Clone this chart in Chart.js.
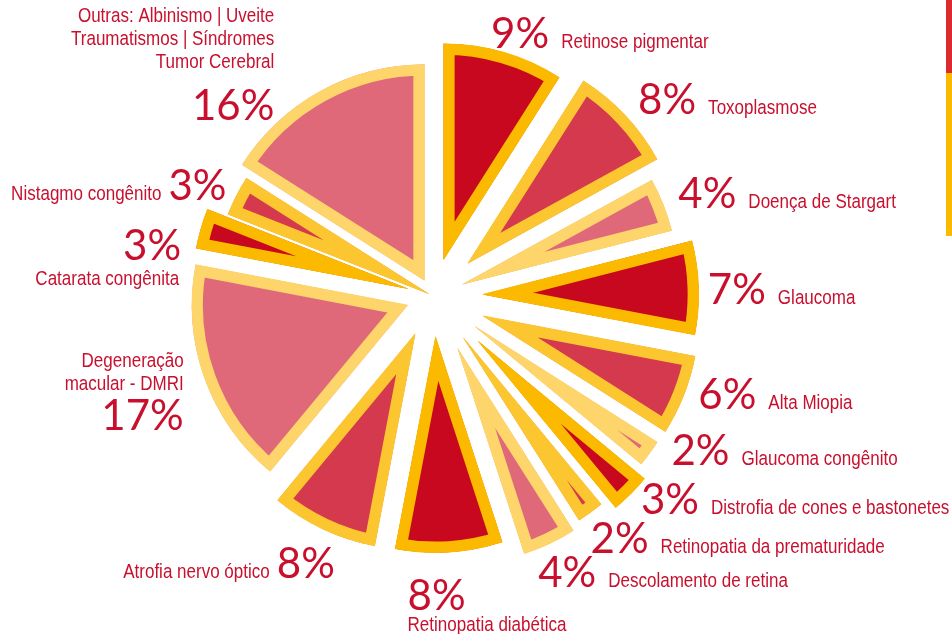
<!DOCTYPE html>
<html>
<head>
<meta charset="utf-8">
<script src="https://cdn.jsdelivr.net/npm/chart.js@4.4.1/dist/chart.umd.min.js"></script>
<style>
  html, body { margin: 0; padding: 0; background: #fff; }
  .container { position: relative; width: 952px; height: 634px; }
</style>
</head>
<body>
<div class="container"><canvas id="myChart" width="952" height="634"></canvas></div>
<script>
const causes = [
  'Retinose pigmentar', 'Toxoplasmose', 'Doença de Stargart', 'Glaucoma', 'Alta Miopia',
  'Glaucoma congênito', 'Distrofia de cones e bastonetes', 'Retinopatia da prematuridade',
  'Descolamento de retina', 'Retinopatia diabética', 'Atrofia nervo óptico',
  'Degeneração\nmacular - DMRI', 'Catarata congênita', 'Nistagmo congênito',
  'Outras: Albinismo | Uveite\nTraumatismos | Síndromes\nTumor Cerebral'
];
const shares = [9, 8, 4, 7, 6, 2, 3, 2, 4, 8, 8, 17, 3, 3, 16];
const pctLabels = shares.map(v => v + '%');

// look
const TEXT_RED = '#C8102E';
const fillShades = ['#C8081F', '#D5394D', '#E06979'];
const edgeShades = ['#FBBA00', '#FCC631', '#FDD56B'];
// how far each wedge is pulled out from the middle (px)
const explode = [38, 48, 32, 50, 54, 52, 64, 52, 58, 41, 42, 27, 26, 5, 18];
// caption placement: side, nudge x, nudge y, gap above (for stacked captions)
const captionLayout = [
  ['right', 9, 21], ['right', 30, 10], ['right', 14, 15], ['right', 24, 17],
  ['right', 34, 10], ['right', 41, 4], ['right', 39, 20], ['right', 22, 30],
  ['right', 15, 38], ['below', -14, 35], ['left', -8, 29], ['above', -27, 39, 40],
  ['belowRight', -12, 42], ['left', 14, 31], ['above', -65, 69, 52]
];
const PCT_FONT = '42px Lato, "Open Sans", sans-serif';
const LABEL_FONT = '20.5px "Liberation Sans", Arial, sans-serif';
const SQUEEZE = 0.83; // the captions are set in a narrow face

// fillText, squeezed horizontally
function narrowText(c, text, x, y, align) {
  const w = c.measureText(text).width * SQUEEZE;
  const left = align === 'left' ? x : x - w;
  c.save();
  c.translate(left, y);
  c.scale(SQUEEZE, 1);
  c.textAlign = 'left';
  c.fillText(text, 0, 0);
  c.restore();
}

const explodePlugin = {
  id: 'explode',
  afterDatasetsUpdate(chart) {
    chart.getDatasetMeta(0).data.forEach((arc, i) => {
      const mid = (arc.startAngle + arc.endAngle) / 2;
      arc.x += Math.cos(mid) * explode[i];
      arc.y += Math.sin(mid) * explode[i];
    });
  }
};

const stripePlugin = {
  id: 'stripe',
  afterDraw(chart) {
    const c = chart.ctx;
    c.save();
    c.fillStyle = '#DB2A30';
    c.fillRect(946, 0, 6, 73);
    c.fillStyle = '#FBBA00';
    c.fillRect(946, 73, 6, 163);
    c.restore();
  }
};

const captionPlugin = {
  id: 'captions',
  afterDatasetsDraw(chart) {
    const c = chart.ctx;
    const area = chart.chartArea;
    const cx = (area.left + area.right) / 2;
    const cy = (area.top + area.bottom) / 2;
    c.save();
    c.fillStyle = TEXT_RED;
    c.textBaseline = 'alphabetic';
    chart.getDatasetMeta(0).data.forEach((arc, i) => {
      const mid = (arc.startAngle + arc.endAngle) / 2;
      const [side, dx, dy, gap] = captionLayout[i];
      const x = cx + Math.cos(mid) * 280 + dx;
      const y = cy + Math.sin(mid) * 280 + dy;
      c.font = PCT_FONT;
      c.textAlign = 'center';
      const w = c.measureText(pctLabels[i]).width;
      c.fillText(pctLabels[i], x, y);

      c.font = LABEL_FONT;
      const lines = causes[i].split('\n');
      if (side === 'right') {
        narrowText(c, lines[0], x + w / 2 + 12, y, 'left');
      } else if (side === 'left') {
        narrowText(c, lines[0], x - w / 2 - 7, y, 'right');
      } else if (side === 'below') {
        narrowText(c, lines[0], x - w / 2, y + 21, 'left');
      } else if (side === 'belowRight') {
        narrowText(c, lines[0], x + w / 2 - 2, y + 25, 'right');
      } else {
        lines.forEach((ln, k) => {
          narrowText(c, ln, x + w / 2, y - gap - (lines.length - 1 - k) * 23, 'right');
        });
      }
    });
    c.restore();
  }
};

const ctx = document.getElementById('myChart');
new Chart(ctx, {
  type: 'pie',
  data: {
    labels: causes,
    datasets: [{
      data: shares,
      radius: 216,
      backgroundColor: shares.map((v, i) => fillShades[i % 3]),
      borderColor: shares.map((v, i) => edgeShades[i % 3]),
      borderWidth: 11,
      borderAlign: 'inner',
      borderJoinStyle: 'miter'
    }]
  },
  options: {
    responsive: false,
    animation: false,
    layout: { padding: { right: 86, bottom: 42 } },
    plugins: {
      legend: { display: false },
      tooltip: { enabled: false }
    }
  },
  plugins: [explodePlugin, captionPlugin, stripePlugin]
});
</script>
</body>
</html>
